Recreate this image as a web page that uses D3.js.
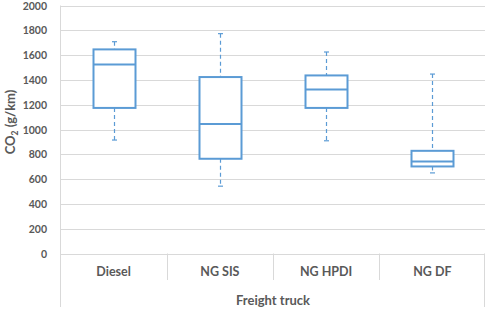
<!DOCTYPE html>
<html>
<head>
<meta charset="utf-8">
<script src="https://d3js.org/d3.v7.min.js"></script>
<style>
body { margin: 0; background: #fff; }
text { font-family: Lato, "Open Sans", sans-serif; font-weight: bold; fill: #595959; }
</style>
</head>
<body>
<div id="chart"></div>
<script>
var categories = ["Diesel", "NG SIS", "NG HPDI", "NG DF"];
var mins    = [915, 543, 909, 650];
var q1s     = [1174, 764, 1174, 702];
var medians = [1525, 1045, 1322, 742];
var q3s     = [1646, 1423, 1436, 828];
var maxs    = [1708, 1773, 1625, 1447];
var yTicks  = [0, 200, 400, 600, 800, 1000, 1200, 1400, 1600, 1800, 2000];
var groupLabel = "Freight truck";

var width = 485, height = 309;
var plotLeft = 60.5, plotRight = 485.5, plotTop = 5.5, plotBottom = 253.5;
var blue = "#5b9bd5", grid = "#d9d9d9";

var svg = d3.select("#chart").append("svg")
	.attr("width", width).attr("height", height);

var x = d3.scaleBand().domain(categories).range([plotLeft, plotRight]);
var y = d3.scaleLinear().domain([0, 2000]).range([plotBottom, plotTop]);

//  gridlines and y labels
svg.selectAll("line.grid").data(yTicks).enter().append("line")
	.attr("x1", plotLeft).attr("x2", plotRight)
	.attr("y1", function(d) { return Math.round(y(d)) + 0.5; })
	.attr("y2", function(d) { return Math.round(y(d)) + 0.5; })
	.attr("stroke", grid).attr("stroke-width", 1);

svg.selectAll("text.ytick").data(yTicks).enter().append("text")
	.attr("x", 47).attr("y", function(d) { return y(d) + 4; })
	.attr("text-anchor", "end")
	.style("font-size", "10.5px")
	.text(function(d) { return d; });

//  axis frame lines
svg.append("line").attr("x1", plotLeft).attr("x2", plotLeft).attr("y1", plotTop).attr("y2", 307)
	.attr("stroke", grid);
svg.append("line").attr("x1", 484.5).attr("x2", 484.5).attr("y1", plotBottom).attr("y2", 307)
	.attr("stroke", grid);
svg.selectAll("line.sep").data(categories.slice(1)).enter().append("line")
	.attr("x1", function(d) { return Math.round(x(d)) + 0.5; })
	.attr("x2", function(d) { return Math.round(x(d)) + 0.5; })
	.attr("y1", plotBottom).attr("y2", 280)
	.attr("stroke", grid);

//  category labels
svg.selectAll("text.cat").data(categories).enter().append("text")
	.attr("x", function(d) { return x(d) + x.bandwidth() / 2; })
	.attr("y", 272).attr("dy", "0.35em").attr("text-anchor", "middle")
	.style("font-size", "12.5px")
	.text(function(d) { return d; });

svg.append("text").attr("x", (plotLeft + plotRight) / 2).attr("y", 300)
	.attr("dy", "0.35em").attr("text-anchor", "middle")
	.style("font-size", "13px").text(groupLabel);

//  y title
var yt = svg.append("text").attr("transform", "translate(15,122) rotate(-90)")
	.attr("text-anchor", "middle").style("font-size", "13px");
yt.append("tspan").text("CO");
yt.append("tspan").attr("dy", "3").style("font-size", "8.5px").text("2");
yt.append("tspan").attr("dy", "-3").text(" (g/km)");

//  boxes
var boxW = 42, capW = 5;
var boxes = categories.map(function(c, i) {
	return { cat: c, min: mins[i], q1: q1s[i], med: medians[i], q3: q3s[i], max: maxs[i] };
});
var g = svg.selectAll("g.box").data(boxes).enter().append("g").attr("class", "box");
function cx(d) { return Math.round(x(d.cat) + x.bandwidth() / 2) + 0.5; }

g.append("line").attr("x1", cx).attr("x2", cx)
	.attr("y1", function(d) { return y(d.max); }).attr("y2", function(d) { return y(d.q3); })
	.attr("stroke", blue).attr("stroke-width", 1.2).attr("stroke-dasharray", "4,3");
g.append("line").attr("x1", cx).attr("x2", cx)
	.attr("y1", function(d) { return y(d.q1); }).attr("y2", function(d) { return y(d.min); })
	.attr("stroke", blue).attr("stroke-width", 1.2).attr("stroke-dasharray", "4,3");
["max", "min"].forEach(function(k) {
	g.append("line")
		.attr("x1", function(d) { return cx(d) - capW / 2; })
		.attr("x2", function(d) { return cx(d) + capW / 2; })
		.attr("y1", function(d) { return y(d[k]); }).attr("y2", function(d) { return y(d[k]); })
		.attr("stroke", blue).attr("stroke-width", 1.2);
});
g.append("rect")
	.attr("x", function(d) { return cx(d) - boxW / 2; })
	.attr("y", function(d) { return y(d.q3); })
	.attr("width", boxW)
	.attr("height", function(d) { return y(d.q1) - y(d.q3); })
	.attr("fill", "#fff").attr("stroke", blue).attr("stroke-width", 2);
g.append("line")
	.attr("x1", function(d) { return cx(d) - boxW / 2; })
	.attr("x2", function(d) { return cx(d) + boxW / 2; })
	.attr("y1", function(d) { return y(d.med); }).attr("y2", function(d) { return y(d.med); })
	.attr("stroke", blue).attr("stroke-width", 2);
</script>
</body>
</html>
